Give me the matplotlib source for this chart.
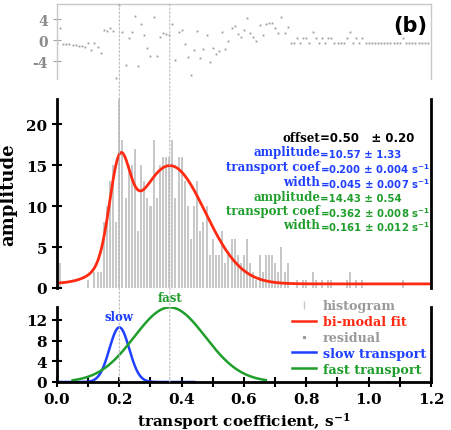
import numpy as np
import matplotlib
matplotlib.use("Agg")
import matplotlib.pyplot as plt
from matplotlib.patches import ConnectionPatch
from matplotlib.lines import Line2D

# histogram counts, one per 0.01 s^-1 bin (bin centres 0.00 ... 1.19)
hist_counts = [
    0, 3, 0, 0, 0, 0, 0, 0, 0, 0,          # 0.00 - 0.09
    1, 0, 2, 2, 2, 8, 10, 13, 15, 8,       # 0.10 - 0.19
    23, 18, 11, 15, 15, 17, 7, 15, 13, 11,  # 0.20 - 0.29
    10, 18, 11, 15, 16, 16, 16, 18, 11, 16,  # 0.30 - 0.39
    16, 13, 10, 6, 10, 13, 7, 8, 10, 4,    # 0.40 - 0.49
    6, 4, 4, 7, 3, 4, 6, 6, 4, 3,          # 0.50 - 0.59
    4, 6, 3, 2, 1, 4, 2, 4, 4, 4,          # 0.60 - 0.69
    3, 2, 5, 2, 3, 0, 0, 1, 0, 1,          # 0.70 - 0.79
    1, 0, 2, 1, 0, 1, 0, 1, 1, 0,          # 0.80 - 0.89
    0, 0, 0, 1, 2, 0, 1, 0, 1, 0,          # 0.90 - 0.99
    0, 0, 0, 0, 0, 0, 0, 0, 0, 0,          # 1.00 - 1.09
    0, 1, 0, 0, 0, 0, 0, 0, 0, 0,          # 1.10 - 1.19
]
bin_width = 0.01

# fit parameters as printed on the chart
offset = 0.50
slow_params = [10.57, 0.200, 0.045]   # amplitude, transport coef, width
fast_params = [14.43, 0.362, 0.161]

slow_range = [0.0, 0.44]
fast_range = [0.05, 0.67]

param_labels = ["amplitude", "transport coef", "width"]
slow_texts = ["=10.57 \u00b1 1.33", "=0.200 \u00b1 0.004 s$^{\\mathregular{-1}}$",
              "=0.045 \u00b1 0.007 s$^{\\mathregular{-1}}$"]
fast_texts = ["=14.43 \u00b1 0.54", "=0.362 \u00b1 0.008 s$^{\\mathregular{-1}}$",
              "=0.161 \u00b1 0.012 s$^{\\mathregular{-1}}$"]

RED = "#ff2a12"
BLUE = "#2040ff"
GREEN = "#1f9e2c"
HIST_GRAY = "#c8c8c8"
RES_GRAY = "#9a9a9a"


def gauss(x, amp, centre, width):
    return amp * np.exp(-((x - centre) / width) ** 2)


def bimodal(x):
    return offset + gauss(x, *slow_params) + gauss(x, *fast_params)


plt.rcParams['font.family'] = 'DejaVu Serif'
plt.rcParams['font.weight'] = 'bold'
plt.rcParams['mathtext.default'] = 'regular'
plt.rcParams['axes.unicode_minus'] = False

fig = plt.figure(figsize=(4.51, 4.31), dpi=100)
left, width = 57 / 451, 374 / 451
ax_res = fig.add_axes([left, 1 - 80 / 431, width, 75 / 431])
ax_main = fig.add_axes([left, 1 - 289 / 431, width, 189 / 431])
ax_bot = fig.add_axes([left, 1 - 383 / 431, width, 75 / 431])
for ax in (ax_res, ax_main, ax_bot):
    ax.patch.set_visible(False)

centres = np.arange(len(hist_counts)) * bin_width
counts = np.array(hist_counts, dtype=float)
xs = np.linspace(0, 1.2, 600)

# --- residual panel ---
residual = counts - bimodal(centres)
ax_res.plot(centres, residual, ls='none', marker='s', ms=1.3, color=RES_GRAY,
            mec='none')
ax_res.set_xlim(0, 1.2)
ax_res.set_ylim(-7.4, 6.9)
ax_res.set_yticks([-4, 0, 4])
ax_res.set_xticks([])
ax_res.spines['bottom'].set_visible(False)
for s in ['top', 'left', 'right']:
    ax_res.spines[s].set_color('#c8c8c8')
    ax_res.spines[s].set_linewidth(1.0)
ax_res.tick_params(axis='y', direction='inout', length=6, color='#a0a0a0',
                   labelcolor='#8a8a8a', labelsize=10)
ax_res.text(0.99, 0.72, "(b)", transform=ax_res.transAxes, ha='right', va='center',
            fontsize=15, fontweight='bold', family='DejaVu Sans')

# --- main panel ---
ax_main.bar(centres, counts, width=0.0065, color=HIST_GRAY, align='center')
ax_main.plot(xs, bimodal(xs), color=RED, lw=2.0)
ax_main.set_xlim(0, 1.2)
ax_main.set_ylim(0, 23.05)
ax_main.set_yticks([0, 5, 10, 15, 20])
ax_main.set_xticks([])
ax_main.spines['top'].set_visible(False)
ax_main.spines['bottom'].set_visible(False)
for s in ['left', 'right']:
    ax_main.spines[s].set_linewidth(2.0)
ax_main.tick_params(axis='y', direction='inout', length=7, width=1.5, labelsize=11)
ax_main.set_ylabel("amplitude", fontsize=13, fontweight='bold', labelpad=6)

x_eq = 0.845
ax_main.text(x_eq, 18.3, "offset", ha='right', va='center', fontsize=8.5, color='black')
ax_main.text(x_eq, 18.3, "=0.50   \u00b1 0.20", ha='left', va='center', fontsize=8.5,
             color='black', family='DejaVu Sans')
row_y = [16.6, 14.8, 13.0]
for lab, txt, yy in zip(param_labels, slow_texts, row_y):
    ax_main.text(x_eq, yy, lab, ha='right', va='center', fontsize=8.5, color=BLUE)
    ax_main.text(x_eq, yy - 0.2, txt, ha='left', va='center', fontsize=7.3,
                 color=BLUE, family='DejaVu Sans')
row_y = [11.2, 9.5, 7.7]
for lab, txt, yy in zip(param_labels, fast_texts, row_y):
    ax_main.text(x_eq, yy, lab, ha='right', va='center', fontsize=8.5, color=GREEN)
    ax_main.text(x_eq, yy - 0.2, txt, ha='left', va='center', fontsize=7.3,
                 color=GREEN, family='DejaVu Sans')

# --- component panel ---
xs_slow = np.linspace(*slow_range, 300)
xs_fast = np.linspace(*fast_range, 300)
ax_bot.plot(xs_slow, gauss(xs_slow, *slow_params), color=BLUE, lw=1.8)
ax_bot.plot(xs_fast, gauss(xs_fast, *fast_params), color=GREEN, lw=1.8)
ax_bot.set_xlim(0, 1.2)
ax_bot.set_ylim(0, 14.5)
ax_bot.set_yticks([0, 4, 8, 12])
ax_bot.set_xticks(np.arange(0, 1.21, 0.2))
ax_bot.set_xticks(np.arange(0, 1.21, 0.1), minor=True)
ax_bot.xaxis.set_major_formatter(plt.FuncFormatter(lambda v, p: f"{v:.1f}"))
ax_bot.spines['top'].set_visible(False)
for s in ['left', 'right', 'bottom']:
    ax_bot.spines[s].set_linewidth(2.0)
ax_bot.tick_params(axis='both', which='both', direction='inout', length=7, width=1.5,
                   labelsize=11)
ax_bot.set_xlabel("transport coefficient, s$^{\\mathregular{-1}}$", fontsize=11,
                  fontweight='bold', labelpad=3)
ax_bot.text(slow_params[1], slow_params[0] + 2.0, "slow", ha='center', va='center',
            fontsize=8.5, color=BLUE)
ax_bot.text(fast_params[1], fast_params[0] + 2.0, "fast", ha='center', va='center',
            fontsize=8.5, color=GREEN, clip_on=False)

handles = [
    Line2D([], [], ls='none', marker='|', ms=6, color=HIST_GRAY),
    Line2D([], [], color=RED, lw=1.8),
    Line2D([], [], ls='none', marker='s', ms=1.3, color=RES_GRAY),
    Line2D([], [], color=BLUE, lw=1.8),
    Line2D([], [], color=GREEN, lw=1.8),
]
labels = ["histogram", "bi-modal fit", "residual", "slow transport", "fast transport"]
colors = ["#9a9a9a", RED, "#9a9a9a", BLUE, GREEN]
leg = ax_bot.legend(handles, labels, loc='upper left', bbox_to_anchor=(0.615, 1.17),
                    frameon=False, fontsize=9.2, handlelength=1.9, handletextpad=0.5,
                    labelspacing=0.22, borderaxespad=0)
for t, c in zip(leg.get_texts(), colors):
    t.set_color(c)

# dotted guide lines at the two transport coefficients, across all panels
for xv in [slow_params[1], fast_params[1]]:
    con = ConnectionPatch(xyA=(xv, 6.9), coordsA=ax_res.transData,
                          xyB=(xv, 0), coordsB=ax_bot.transData,
                          ls=(0, (2, 2)), lw=0.7, color='#b4b4b4', zorder=0.5)
    fig.add_artist(con)

fig.savefig("out.png", dpi=100)
